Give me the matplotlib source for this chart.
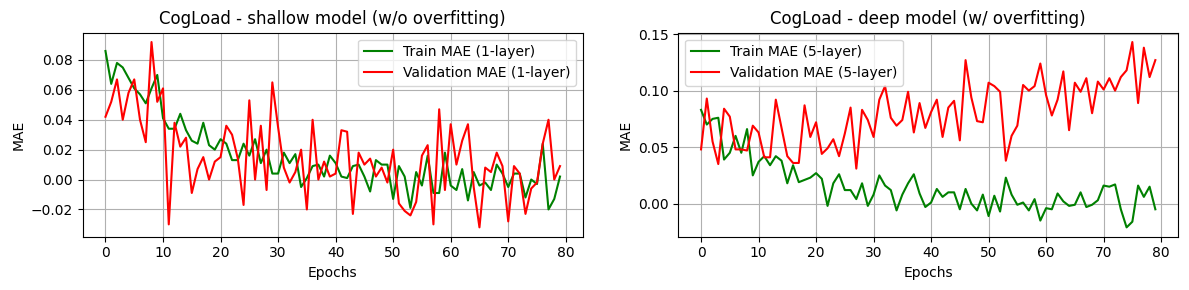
import matplotlib
matplotlib.use('Agg')
import matplotlib.pyplot as plt
import numpy as np

# 1-layer (shallow) model
train_1 = [0.086, 0.064, 0.078, 0.075, 0.068, 0.061, 0.057, 0.051, 0.061, 0.070,
           0.041, 0.034, 0.034, 0.044, 0.033, 0.026, 0.024, 0.038, 0.023, 0.020,
           0.027, 0.024, 0.013, 0.013, 0.024, 0.016, 0.027, 0.011, 0.020, 0.004,
           0.004, 0.018, 0.011, 0.017, -0.005, 0.001, 0.009, 0.010, 0.002, 0.016,
           0.011, 0.002, 0.001, 0.009, 0.010, 0.002, -0.008, 0.013, 0.010, 0.010,
           -0.013, 0.009, 0.002, -0.019, 0.005, -0.004, 0.016, -0.009, -0.009, 0.018,
           -0.004, -0.007, 0.007, -0.014, 0.005, -0.004, -0.002, -0.007, 0.010, 0.004,
           -0.005, 0.004, 0.004, -0.012, 0.000, -0.003, 0.024, -0.020, -0.013, 0.002]
val_1 = [0.042, 0.052, 0.067, 0.040, 0.058, 0.067, 0.040, 0.025, 0.092, 0.052,
         0.061, -0.030, 0.038, 0.022, 0.028, -0.009, 0.007, 0.015, 0.000, 0.012,
         0.015, 0.036, 0.030, 0.014, -0.017, 0.053, 0.000, 0.036, -0.007, 0.065,
         0.035, 0.008, -0.002, 0.005, 0.020, -0.020, 0.040, 0.000, 0.012, 0.002,
         0.004, 0.033, 0.032, -0.023, 0.018, 0.010, 0.014, 0.002, 0.008, -0.002,
         0.020, -0.016, -0.021, -0.024, -0.015, 0.016, 0.023, -0.030, 0.047, -0.007,
         0.037, 0.010, 0.026, 0.037, -0.005, -0.032, 0.008, 0.005, 0.018, 0.009,
         -0.028, 0.009, 0.004, -0.023, -0.006, -0.002, 0.024, 0.040, 0.000, 0.009]

# 5-layer (deep) model
train_5 = [0.083, 0.070, 0.075, 0.076, 0.039, 0.045, 0.060, 0.045, 0.066, 0.025,
           0.037, 0.042, 0.034, 0.042, 0.038, 0.018, 0.034, 0.019, 0.021, 0.023,
           0.027, 0.022, -0.002, 0.018, 0.026, 0.012, 0.012, 0.004, 0.018, -0.002,
           0.008, 0.025, 0.016, 0.012, -0.006, 0.008, 0.018, 0.026, 0.009, -0.003,
           0.001, 0.013, 0.006, 0.010, 0.010, -0.005, 0.013, 0.000, -0.006, 0.008,
           -0.011, 0.007, -0.007, 0.023, 0.008, -0.001, 0.001, -0.006, 0.004, -0.015,
           -0.004, -0.005, 0.009, 0.002, -0.002, -0.001, 0.010, -0.003, -0.001, 0.003,
           0.016, 0.015, 0.017, -0.005, -0.021, -0.016, 0.016, 0.006, 0.015, -0.005]
val_5 = [0.048, 0.093, 0.055, 0.035, 0.084, 0.077, 0.048, 0.048, 0.047, 0.069,
         0.063, 0.041, 0.041, 0.092, 0.067, 0.042, 0.036, 0.036, 0.087, 0.059,
         0.072, 0.044, 0.049, 0.057, 0.042, 0.062, 0.085, 0.031, 0.083, 0.074,
         0.059, 0.092, 0.104, 0.076, 0.069, 0.074, 0.099, 0.063, 0.089, 0.067,
         0.081, 0.092, 0.059, 0.085, 0.091, 0.056, 0.127, 0.094, 0.073, 0.072,
         0.107, 0.104, 0.099, 0.038, 0.060, 0.069, 0.105, 0.100, 0.104, 0.124,
         0.096, 0.078, 0.092, 0.117, 0.065, 0.107, 0.099, 0.111, 0.080, 0.108,
         0.101, 0.111, 0.100, 0.112, 0.118, 0.143, 0.089, 0.138, 0.112, 0.127]

epochs = np.arange(len(train_1))

fig = plt.figure(figsize=(11.89, 2.9), dpi=100)
ax1 = fig.add_axes([0.0696, 0.184, 0.4205, 0.703])
ax2 = fig.add_axes([0.5705, 0.184, 0.4203, 0.703])

ax1.plot(epochs, train_1, color='g', label='Train MAE (1-layer)')
ax1.plot(epochs, val_1, color='r', label='Validation MAE (1-layer)')
ax1.set_title("CogLoad - shallow model (w/o overfitting)")
ax1.set_xlabel("Epochs"); ax1.set_ylabel("MAE")
ax1.legend(loc='upper right')
ax1.grid(True)

ax2.plot(epochs, train_5, color='g', label='Train MAE (5-layer)')
ax2.plot(epochs, val_5, color='r', label='Validation MAE (5-layer)')
ax2.set_title("CogLoad - deep model (w/ overfitting)")
ax2.set_xlabel("Epochs"); ax2.set_ylabel("MAE")
ax2.legend(loc='upper left')
ax2.grid(True)

fig.savefig("out.png", dpi=100, facecolor='white')
